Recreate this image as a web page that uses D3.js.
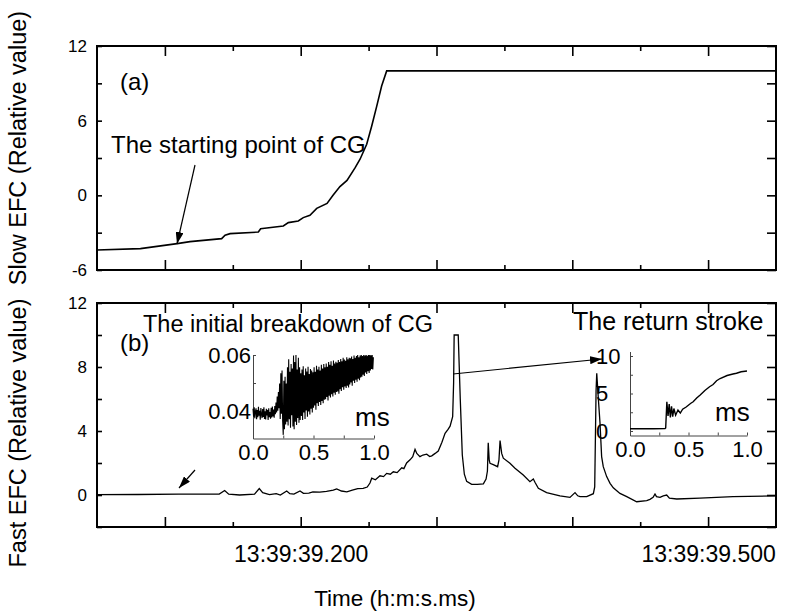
<!DOCTYPE html>
<html><head><meta charset="utf-8">
<script src="https://cdn.jsdelivr.net/npm/d3@7"></script>
<style>
body{margin:0;background:#fff}
text{font-family:"Liberation Sans",Arial,Helvetica,sans-serif;fill:#000}
</style>
</head><body>
<svg id="chart" width="787" height="616"></svg>
<script>
// ---------------- DATA ----------------
// time axis: milliseconds after 13:39:39
const timeDomain = [50, 550];
const timeMajorTicks = [100, 200, 300, 400, 500];
const timeMinorTicks = [150, 250, 350, 450];
const timeLabelTicks = [200, 500];
const timePrefix = "13:39:39.";

// panel (a) slow electric field change
const slowDomain = [-6, 12];
const slowTicks = [-6, -3, 0, 3, 6, 9, 12];
const slowLabels = [-6, 0, 6, 12];
const slowT = [50, 82, 109, 118.5, 141.8, 144.3, 148, 168.8, 170.5, 175, 187.2, 190.9, 198.2, 201.9, 206.8, 211.8, 219.4, 223.8, 228.9, 234.1, 240, 243.7, 248.6, 252.3, 256, 259.6, 263.3, 550];
const slowV = [-4.39, -4.28, -3.88, -3.72, -3.48, -3.21, -3.08, -2.95, -2.68, -2.62, -2.46, -2.19, -2.06, -1.79, -1.61, -1.05, -0.65, 0.0, 0.7, 1.2, 2.2, 2.9, 4.1, 5.57, 7.17, 8.78, 10, 10];

// panel (b) fast electric field change
const fastDomain = [-2, 12];
const fastTicks = [-2, 0, 2, 4, 6, 8, 10, 12];
const fastLabels = [0, 4, 8, 12];
const fastT = [50, 80, 110, 140, 144, 147, 155, 166, 169.5, 172, 177, 182, 185, 189.7, 192, 195, 199.5, 202, 206, 209, 214, 219, 224, 226.5, 230, 234, 238, 242, 246, 249, 251, 252.3, 255, 258.4, 261, 263.3, 266, 268.2, 271, 274.4, 276, 278, 280.5, 282.5, 284.2, 285.5, 287.8, 290, 292.8, 295, 296.5, 299, 301.3, 304, 306.3, 308.5, 310, 311.9, 312.6, 313, 316, 317.5, 319, 320.5, 322.2, 325.9, 330, 334.5, 336.5, 337.5, 338.1, 338.8, 339.4, 341.8, 345, 346, 346.8, 348, 349.2, 354.1, 357.8, 363.9, 368.8, 371.3, 372.5, 375, 381.1, 390.9, 398.3, 402, 404, 405.7, 410.6, 415.5, 416.5, 417.5, 418, 419.2, 420.4, 421.6, 422.8, 425.3, 427.8, 430.2, 435.1, 440.1, 447.4, 454.8, 457.2, 459.5, 460.9, 462, 464.6, 467, 469.5, 471.5, 476.9, 494, 518.3, 550];
const fastV = [0.02, 0.03, 0.05, 0.06, 0.28, 0.05, 0.0, 0.05, 0.4, 0.15, 0.02, 0.08, 0.0, 0.25, 0.08, 0.05, 0.25, 0.1, 0.12, 0.2, 0.18, 0.22, 0.3, 0.38, 0.25, 0.2, 0.3, 0.4, 0.42, 0.5, 0.75, 1.05, 0.95, 1.2, 1.15, 1.35, 1.3, 1.45, 1.4, 1.7, 1.65, 2.0, 2.2, 2.4, 2.85, 2.6, 2.4, 2.5, 2.55, 2.4, 2.45, 2.6, 2.75, 3.3, 3.85, 4.1, 4.3, 4.9, 7, 10, 10, 6, 2.5, 1.3, 0.85, 0.67, 0.66, 0.7, 1.0, 1.5, 3.27, 2.2, 1.98, 1.9, 1.77, 2.2, 3.4, 2.6, 2.3, 1.98, 1.67, 1.25, 0.83, 1.0, 0.8, 0.42, 0.15, -0.06, -0.15, 0.15, -0.05, -0.1, -0.1, 0.08, 0.5, 6.5, 7.6, 6.0, 4.5, 2.4, 1.77, 1.15, 0.73, 0.45, 0.1, -0.1, -0.42, -0.35, -0.27, -0.15, 0.06, -0.1, -0.15, -0.05, 0.0, -0.2, -0.25, -0.2, -0.1, -0.06];

// inset 1: initial breakdown (ms, sampled every 0.005 ms)
const breakdownDt = 0.005;
const breakdownV = [
  0.0408,0.0380,0.0413,0.0374,0.0398,0.0410,0.0371,0.0404,0.0378,0.0415,0.0383,0.0401,0.0369,0.0411,0.0388,0.0375,0.0407,0.0379,0.0413,0.0372,0.0399,0.0370,0.0408,0.0384,0.0404,0.0368,0.0410,0.0378,0.0396,0.0373,0.0412,0.0377,0.0416,0.0381,0.0405,0.0376,
  0.0418,0.0389,0.0430,0.0395,0.0452,0.0401,0.0468,0.0410,
  0.0498,0.0372,0.0535,0.0390,0.0545,0.0365,
  0.0315,0.0508,0.0335,0.0522,0.0352,0.0498,
  0.0362,0.0556,0.0348,0.0585,0.0371,0.0540,0.0340,0.0568,0.0385,0.0552,
  0.0345,0.0598,0.0335,0.0575,0.0362,0.0600,0.0350,0.0548,0.0375,0.0590,0.0358,0.0556,0.0368,0.0535,
  0.0382,0.0548,0.0368,0.0560,0.0395,0.0528,0.0372,0.0552,0.0402,0.0541,0.0380,0.0558,0.0398,0.0532,0.0388,0.0550,0.0408,0.0545,0.0395,0.0538,
  0.0412,0.0556,0.0420,0.0540,0.0405,0.0562,0.0428,0.0548,0.0418,0.0558,0.0432,0.0545,0.0422,0.0565,0.0436,0.0552,0.0428,0.0568,0.0440,0.0556,
  0.0442,0.0570,0.0450,0.0558,0.0438,0.0575,0.0455,0.0565,0.0448,0.0578,0.0460,0.0562,0.0452,0.0580,0.0465,0.0570,0.0458,0.0576,0.0468,0.0572,
  0.0470,0.0582,0.0462,0.0575,0.0478,0.0586,0.0472,0.0578,0.0485,0.0590,0.0476,0.0584,0.0488,0.0579,0.0482,0.0592,0.0490,0.0585,0.0484,0.0590,
  0.0495,0.0588,0.0502,0.0595,0.0490,0.0586,0.0508,0.0598,0.0500,0.0590,0.0512,0.0596,0.0505,0.0600,0.0515,0.0592,0.0510,0.0598,0.0520,0.0600,
  0.0522,0.0596,0.0530,0.0600,0.0525,0.0598,0.0538,0.0600,0.0532,0.0597,0.0542,0.0600,0.0536,0.0600,0.0545,0.0599,0.0550,0.0600,0.0548,0.0592];
const breakdownYDomain = [0.0302, 0.06];
const breakdownYTicks = [0.04, 0.05, 0.06];
const breakdownYLabels = [0.04, 0.06];

// inset 2: return stroke
const strokeT = [0, 0.1, 0.2, 0.3, 0.305, 0.315, 0.325, 0.335, 0.345, 0.355, 0.365, 0.375, 0.39, 0.41, 0.43, 0.45, 0.48, 0.52, 0.54, 0.57, 0.6, 0.64, 0.68, 0.71, 0.74, 0.77, 0.83, 0.88, 0.91, 0.95, 1.0];
const strokeV = [0.3, 0.32, 0.3, 0.33, 0.4, 3.9, 2.0, 3.6, 1.8, 3.3, 1.9, 3.0, 2.1, 2.8, 2.4, 2.9, 3.2, 3.7, 3.9, 4.4, 4.8, 5.4, 5.9, 6.2, 6.7, 7.0, 7.4, 7.6, 7.7, 7.9, 8.0];
const strokeYDomain = [-0.6, 10.6];
const strokeYTicks = [0, 2.5, 5, 7.5, 10];
const strokeYLabels = [0, 5, 10];

const insetXTicks = [0, 0.25, 0.5, 0.75, 1.0];
const insetXLabels = [0, 0.5, 1.0];

// ---------------- DRAW ----------------
const svg = d3.select("#chart");

const defs = svg.append("defs");
defs.append("marker").attr("id", "arr").attr("viewBox", "0 0 12 8")
  .attr("refX", 12).attr("refY", 4).attr("markerWidth", 12).attr("markerHeight", 8)
  .attr("markerUnits", "userSpaceOnUse").attr("orient", "auto")
  .append("path").attr("d", "M0,0 L12,4 L0,8 Z").attr("fill", "#000");

const x = d3.scaleLinear().domain(timeDomain).range([97, 776]);

function panel(yDomain, yRange, yTicks, yLabels, showXLabels) {
  const y = d3.scaleLinear().domain(yDomain).range(yRange);
  const g = svg.append("g");
  const yb = yRange[0], yt = yRange[1];
  const clean = s => { s.select(".domain").remove(); s.selectAll("line").attr("stroke", "#000").attr("stroke-width", 1.6); };
  g.append("g").attr("transform", `translate(0,${yb})`)
    .call(d3.axisBottom(x).tickValues(timeMajorTicks).tickSizeInner(-10).tickSizeOuter(0).tickPadding(19)
      .tickFormat(d => showXLabels && timeLabelTicks.includes(d) ? timePrefix + String(d).padStart(3, "0") : ""))
    .call(clean).call(s => s.selectAll("text").style("font-size", "23px").attr("font-family", null));
  g.append("g").attr("transform", `translate(0,${yb})`)
    .call(d3.axisBottom(x).tickValues(timeMinorTicks).tickSizeInner(-5).tickSizeOuter(0).tickFormat(""))
    .call(clean);
  g.append("g").attr("transform", `translate(0,${yt})`)
    .call(d3.axisTop(x).tickValues(timeMajorTicks).tickSizeInner(-10).tickSizeOuter(0).tickFormat(""))
    .call(clean);
  g.append("g").attr("transform", `translate(0,${yt})`)
    .call(d3.axisTop(x).tickValues(timeMinorTicks).tickSizeInner(-5).tickSizeOuter(0).tickFormat(""))
    .call(clean);
  g.append("g").attr("transform", `translate(97,0)`)
    .call(d3.axisLeft(y).tickValues(yTicks).tickSizeInner(-5).tickSizeOuter(0).tickPadding(10)
      .tickFormat(d => yLabels.includes(d) ? String(d) : ""))
    .call(clean).call(s => s.selectAll("text").style("font-size", "17px").attr("font-family", null));
  g.append("g").attr("transform", `translate(776,0)`)
    .call(d3.axisRight(y).tickValues(yTicks).tickSizeInner(-9).tickSizeOuter(0).tickFormat(""))
    .call(clean);
  g.append("rect").attr("x", 97).attr("y", yt).attr("width", 776 - 97).attr("height", yb - yt)
    .attr("fill", "none").attr("stroke", "#000").attr("stroke-width", 2);
  return y;
}

const yA = panel(slowDomain, [270, 46], slowTicks, slowLabels, false);
const yB = panel(fastDomain, [527, 303], fastTicks, fastLabels, true);

svg.append("path").datum(d3.zip(slowT, slowV))
  .attr("d", d3.line().x(d => x(d[0])).y(d => yA(d[1])))
  .attr("fill", "none").attr("stroke", "#000").attr("stroke-width", 1.6);
svg.append("path").datum(d3.zip(fastT, fastV))
  .attr("d", d3.line().x(d => x(d[0])).y(d => yB(d[1])))
  .attr("fill", "none").attr("stroke", "#000").attr("stroke-width", 1.3);

function inset(xr, yr, yDomain, yTicks, yLabels, fmtY, labelAnchorStart) {
  const xi = d3.scaleLinear().domain([0, 1]).range(xr);
  const yi = d3.scaleLinear().domain(yDomain).range(yr);
  const g = svg.append("g");
  g.append("g").attr("transform", `translate(0,${yr[0]})`)
    .call(d3.axisBottom(xi).tickValues(insetXTicks).tickSizeInner(-3).tickSizeOuter(0).tickPadding(6)
      .tickFormat(d => insetXLabels.includes(d) ? d.toFixed(1) : ""))
    .call(s => { s.select(".domain").attr("stroke", "#444"); s.selectAll("line").attr("stroke", "#444");
      s.selectAll("text").style("font-size", "22px").attr("font-family", null); });
  const la = g.append("g").attr("transform", `translate(${xr[0]},0)`)
    .call(d3.axisLeft(yi).tickValues(yTicks).tickSizeInner(-3).tickSizeOuter(0).tickPadding(2)
      .tickFormat(d => yLabels.includes(d) ? fmtY(d) : ""))
    .call(s => { s.select(".domain").attr("stroke", "#444"); s.selectAll("line").attr("stroke", "#444");
      s.selectAll("text").style("font-size", "22px").attr("font-family", null); });
  if (labelAnchorStart) la.selectAll("text").attr("text-anchor", "start").attr("x", -34);
  return [xi, yi, g];
}

const [xi1, yi1, g1] = inset([253, 374], [438.5, 355], breakdownYDomain, breakdownYTicks, breakdownYLabels, d => d.toFixed(2), false);
g1.append("path").datum(breakdownV)
  .attr("d", d3.line().x((d, i) => xi1(i * breakdownDt)).y(d => yi1(d)))
  .attr("fill", "none").attr("stroke", "#000").attr("stroke-width", 1.1);

const [xi2, yi2, g2] = inset([630, 747], [435.5, 351.5], strokeYDomain, strokeYTicks, strokeYLabels, d => String(d), true);
g2.append("path").datum(d3.zip(strokeT, strokeV))
  .attr("d", d3.line().x(d => xi2(d[0])).y(d => yi2(d[1])))
  .attr("fill", "none").attr("stroke", "#000").attr("stroke-width", 1.4);

function txt(s, xx, yy, size, anchor) {
  return svg.append("text").attr("x", xx).attr("y", yy).style("font-size", size + "px")
    .attr("text-anchor", anchor || "start").text(s);
}
txt("(a)", 120, 90, 24);
txt("(b)", 120, 351, 24);
txt("The starting point of CG", 111, 152.5, 24);
txt("The initial breakdown of CG", 143, 331.5, 23.5);
txt("The return stroke", 573, 330, 25);
txt("ms", 355, 426, 26);
txt("ms", 715, 421, 26);

function arrow(x1, y1, x2, y2) {
  svg.append("line").attr("x1", x1).attr("y1", y1).attr("x2", x2).attr("y2", y2)
    .attr("stroke", "#000").attr("stroke-width", 1.2).attr("marker-end", "url(#arr)");
}
arrow(195, 165, 177, 244);
arrow(195, 470, 179, 488);
arrow(453, 374, 602, 359);

svg.append("text").attr("transform", "translate(26,148) rotate(-90)").attr("text-anchor", "middle")
  .style("font-size", "23.5px").text("Slow EFC (Relative value)");
svg.append("text").attr("transform", "translate(26,433) rotate(-90)").attr("text-anchor", "middle")
  .style("font-size", "23.5px").text("Fast EFC (Relative value)");
txt("Time (h:m:s.ms)", 395, 606, 22.5, "middle");
</script>
</body></html>
